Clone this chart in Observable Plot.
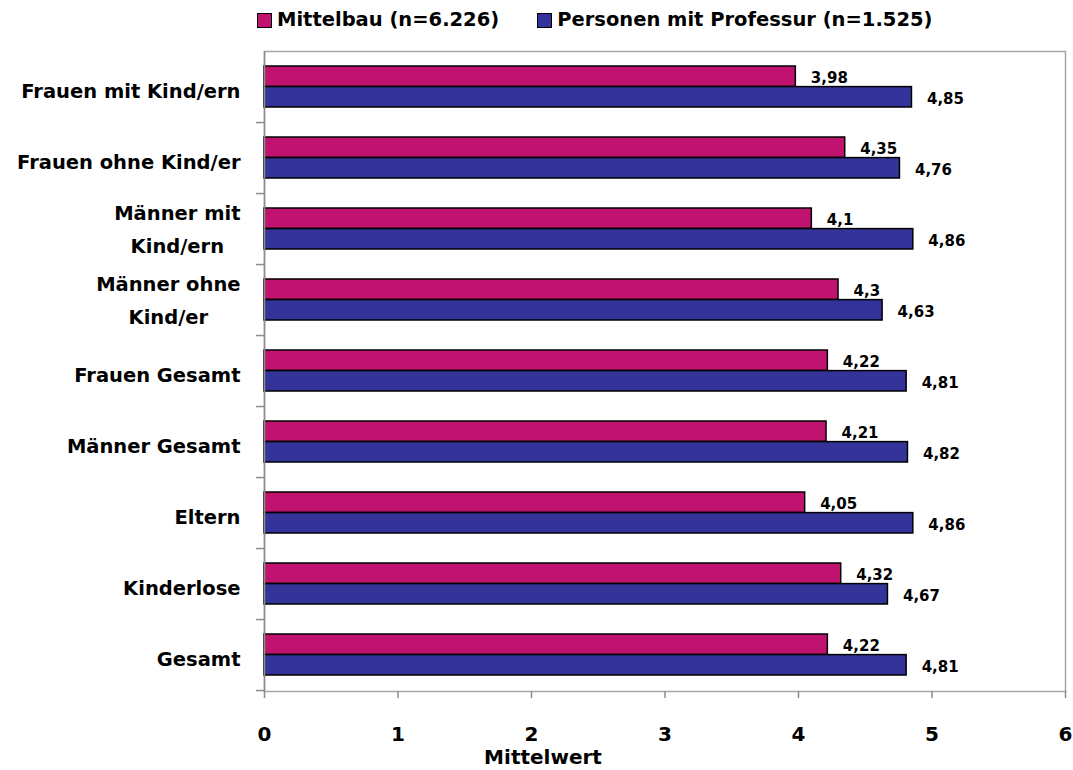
<!DOCTYPE html>
<html>
<head>
<meta charset="utf-8">
<script src="https://cdn.jsdelivr.net/npm/d3@7"></script>
<script src="https://cdn.jsdelivr.net/npm/@observablehq/plot@0.6"></script>
<style>
  body { margin: 0; background: #fff; font-family: "DejaVu Sans", sans-serif; }
  #wrap { position: relative; width: 1073px; height: 770px; }
  #legend { position: absolute; left: 257px; top: 9px; display: flex; align-items: center; font-weight: bold; font-size: 19.5px; color: #000; line-height: 22px; }
  .sw { display: inline-block; width: 13px; height: 13px; border: 1.5px solid #000; margin-right: 5px; }
  .item { display: flex; align-items: center; margin-right: 38px; }
  #xtitle { position: absolute; left: 543px; top: 747px; transform: translateX(-50%); font-weight: bold; font-size: 20px; line-height: 20px; }
</style>
</head>
<body>
<div id="wrap">
  <div id="legend"></div>
  <div id="chart"></div>
  <div id="xtitle"></div>
</div>
<script>
const categories = ["Frauen mit Kind/ern", "Frauen ohne Kind/er", "Männer mit\nKind/ern", "Männer ohne\nKind/er", "Frauen Gesamt", "Männer Gesamt", "Eltern", "Kinderlose", "Gesamt"];
const mittelbau = [3.98, 4.35, 4.1, 4.3, 4.22, 4.21, 4.05, 4.32, 4.22];
const professur = [4.85, 4.76, 4.86, 4.63, 4.81, 4.82, 4.86, 4.67, 4.81];
const seriesNames = ["Mittelbau (n=6.226)", "Personen mit Professur (n=1.525)"];
const seriesColors = ["#C0136F", "#333399"];
const xTicks = [0, 1, 2, 3, 4, 5, 6];
const xTitle = "Mittelwert";

const fmt = v => String(v).replace(".", ",");
const rowsM = categories.map((c, i) => ({cat: c, value: mittelbau[i]}));
const rowsP = categories.map((c, i) => ({cat: c, value: professur[i]}));

const half = 20.6;
const font = "'DejaVu Sans', sans-serif";

const chart = Plot.plot({
  width: 1073,
  height: 770,
  marginTop: 51,
  marginBottom: 79,
  marginLeft: 264,
  marginRight: 8,
  style: {fontFamily: font, fontWeight: "bold", color: "#000", background: "#fff"},
  x: {domain: [0, 6], ticks: xTicks},
  y: {domain: categories, paddingInner: 0.42, paddingOuter: 0.21},
  marks: [
    Plot.frame({stroke: "#a6a6a6", strokeWidth: 1.5}),
    Plot.barX(rowsM, {x: "value", y: "cat", fill: seriesColors[0], stroke: "#000", strokeWidth: 1.5, insetBottom: half}),
    Plot.barX(rowsP, {x: "value", y: "cat", fill: seriesColors[1], stroke: "#000", strokeWidth: 1.5, insetTop: half}),
    Plot.text(rowsM, {x: "value", y: "cat", text: d => fmt(d.value), dx: 15, dy: -9, textAnchor: "start", fontSize: 15, fontWeight: "bold", fill: "#000"}),
    Plot.text(rowsP, {x: "value", y: "cat", text: d => fmt(d.value), dx: 15, dy: 12, textAnchor: "start", fontSize: 15, fontWeight: "bold", fill: "#000"}),
    Plot.axisX({ticks: xTicks, tickSize: 7, tickPadding: 28, fontSize: 20, fontWeight: "bold", stroke: "#8c8c8c", strokeWidth: 1.5, label: null, tickFormat: d => String(d)}),
    Plot.ruleX([0], {stroke: "#8c8c8c", strokeWidth: 1.5}),
    Plot.ruleY([0], {frameAnchor: "bottom", stroke: "#8c8c8c", strokeWidth: 1.5}),
    Plot.axisY({tickSize: 0, tickPadding: 24, fontSize: 19.5, fontWeight: "bold", label: null, className: "ylab", lineHeight: 1.7}),
    Plot.axisY({tickSize: 8, dy: 71.11 / 2, tickFormat: () => "", stroke: "#8c8c8c", strokeWidth: 1.5, label: null})
  ]
});
document.getElementById("chart").appendChild(chart);

// center multi-line labels within their block, keeping block right aligned
chart.querySelectorAll(".ylab text").forEach(t => {
  const spans = t.querySelectorAll("tspan");
  if (spans.length > 1) {
    let w = 0;
    spans.forEach(s => { w = Math.max(w, s.getComputedTextLength()); });
    t.setAttribute("text-anchor", "middle");
    spans.forEach(s => s.setAttribute("x", String(-w / 2)));
    const tr = t.getAttribute("transform") || "";
    t.setAttribute("transform", tr + " translate(0,-3)");
  }
});

const legend = document.getElementById("legend");
seriesNames.forEach((n, i) => {
  const it = document.createElement("div");
  it.className = "item";
  const sw = document.createElement("span");
  sw.className = "sw";
  sw.style.background = seriesColors[i];
  it.appendChild(sw);
  const tx = document.createElement("span");
  tx.textContent = n;
  it.appendChild(tx);
  legend.appendChild(it);
});
document.getElementById("xtitle").textContent = xTitle;
</script>
</body>
</html>
